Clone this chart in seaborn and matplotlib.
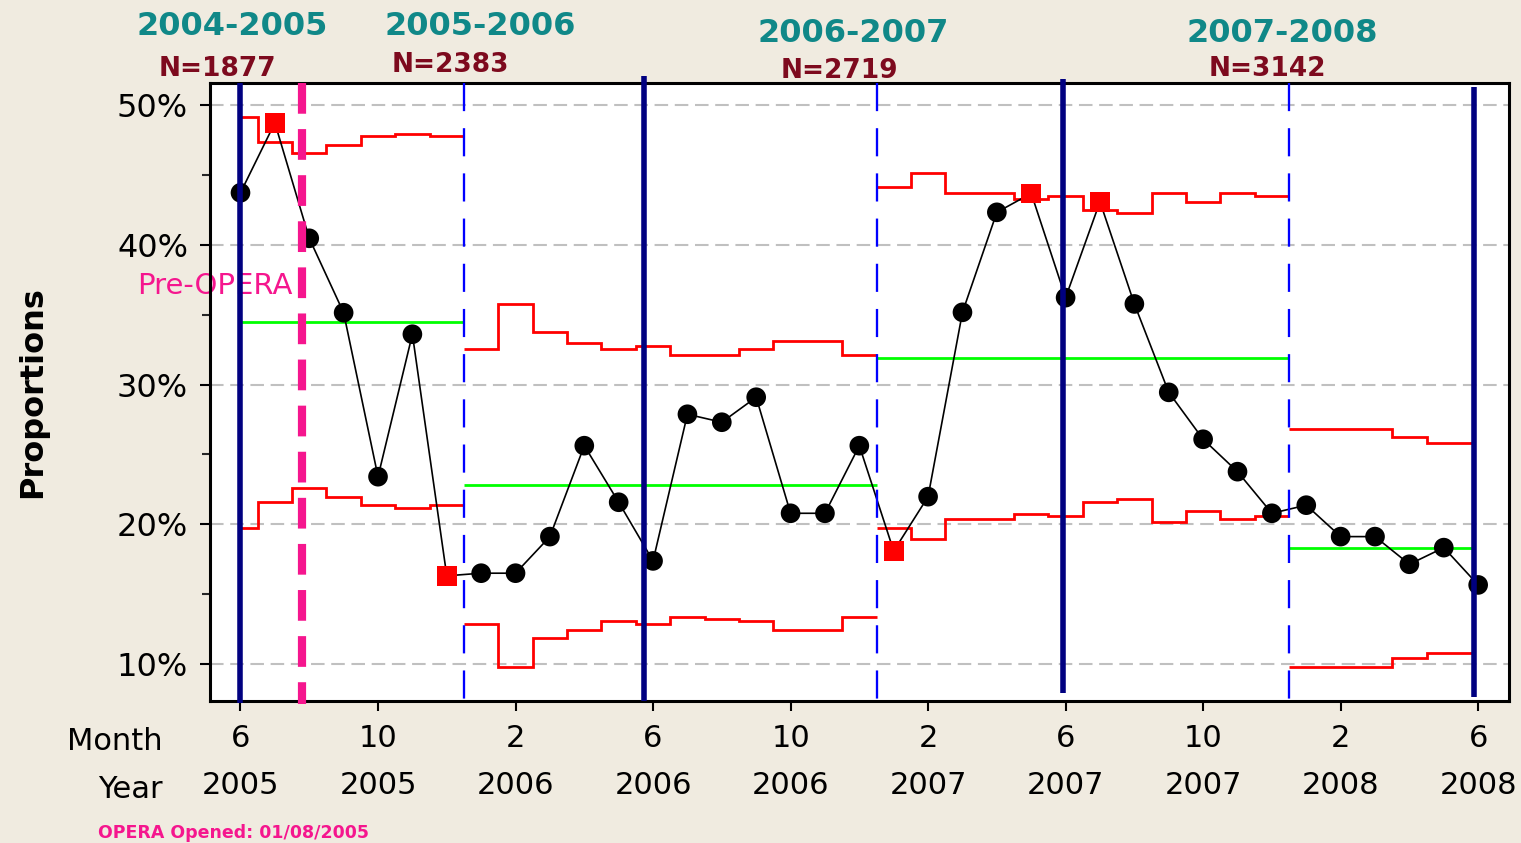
import numpy as np
import pandas as pd
import matplotlib
matplotlib.use("Agg")
import matplotlib.pyplot as plt
import seaborn as sns

# ---------------- data ----------------
months = [6, 7, 8, 9, 10, 11, 12,
          1, 2, 3, 4, 5, 6, 7, 8, 9, 10, 11, 12,
          1, 2, 3, 4, 5, 6, 7, 8, 9, 10, 11, 12,
          1, 2, 3, 4, 5, 6]
years = [2005] * 7 + [2006] * 12 + [2007] * 12 + [2008] * 6

proportion = [43.74, 48.75, 40.48, 35.15, 23.41, 33.61, 16.31,
              16.50, 16.50, 19.12, 25.63, 21.58, 17.38, 27.88, 27.31, 29.10, 20.79, 20.79, 25.63,
              18.09, 21.98, 35.18, 42.34, 43.70, 36.23, 43.10, 35.78, 29.45, 26.09, 23.77, 20.79,
              21.37, 19.12, 19.12, 17.14, 18.33, 15.66]

ucl = [49.18, 47.35, 46.56, 47.16, 47.80, 47.95, 47.80,
       32.53, 35.78, 33.77, 33.01, 32.53, 32.75, 32.10, 32.10, 32.53, 33.13, 33.13, 32.10,
       44.15, 45.13, 43.70, 43.70, 43.27, 43.51, 42.50, 42.31, 43.70, 43.10, 43.70, 43.51,
       26.83, 26.83, 26.83, 26.23, 25.80, 25.80]

lcl = [19.72, 21.58, 22.58, 21.98, 21.37, 21.15, 21.39,
       12.87, 9.77, 11.85, 12.44, 13.09, 12.87, 13.39, 13.23, 13.09, 12.44, 12.44, 13.39,
       19.72, 18.95, 20.39, 20.39, 20.74, 20.60, 21.58, 21.82, 20.20, 20.96, 20.39, 20.60,
       9.77, 9.77, 9.77, 10.41, 10.79, 10.79]

center_line = [34.51, 22.80, 31.93, 18.33]
phase_sizes = [7, 12, 12, 6]
phase_edges = [1.0, 7.5, 19.5, 31.5, 36.9]
phase_titles = ["2004-2005", "2005-2006", "2006-2007", "2007-2008"]
phase_n = ["N=1877", "N=2383", "N=2719", "N=3142"]
year_marks = [1.0, 12.74, 24.93, 36.89]
opera_open = 2.80
y_ticks = [10, 20, 30, 40, 50]

# ---------------- figure ----------------
W, H = 1521, 843
sns.set_style("white")
plt.rcParams["font.family"] = ["DejaVu Sans"]

BG = "#f0ebe0"
PINK = "#f5168e"
TEAL = "#108888"
MAROON = "#7d0a1e"

fig = plt.figure(figsize=(W / 100, H / 100), dpi=100, facecolor=BG)
ax_l, ax_r, ax_t, ax_b = 210, 1509, 83, 700.7
ax = fig.add_axes([ax_l / W, 1 - ax_b / H, (ax_r - ax_l) / W, (ax_b - ax_t) / H])
ax.set_facecolor("white")

idx = np.arange(1, len(proportion) + 1)
df = pd.DataFrame({"idx": idx, "p": proportion, "ucl": ucl, "lcl": lcl})
df["status"] = np.where((df["p"] > df["ucl"]) | (df["p"] < df["lcl"]), "out", "in")

# control limits & centre lines per phase
start = 0
for k, n in enumerate(phase_sizes):
    seg = slice(start, start + n)
    first = idx[start]
    edges = [phase_edges[k]] + [first + j + 0.5 for j in range(n - 1)] + [phase_edges[k + 1]]
    ax.stairs(np.array(ucl[seg]), edges, baseline=None, color="#ff0000", lw=2.0, zorder=3)
    ax.stairs(np.array(lcl[seg]), edges, baseline=None, color="#ff0000", lw=2.0, zorder=3)
    ax.hlines(center_line[k], phase_edges[k], phase_edges[k + 1], color="#00ff00", lw=2.0, zorder=3)
    start += n

# data line and points
sns.lineplot(data=df, x="idx", y="p", color="black", lw=1.2, ax=ax, zorder=4)
sns.scatterplot(data=df, x="idx", y="p", hue="status", style="status",
                palette={"in": "black", "out": "#ff0000"},
                markers={"in": "o", "out": "s"}, s=200, linewidth=0,
                legend=False, ax=ax, zorder=5)

# phase boundaries (blue dashed)
xt = ax.get_xaxis_transform()
for xb in phase_edges[1:-1]:
    ax.plot([xb, xb], [1.0, 0.0], transform=xt, color="#0000ff", lw=1.66,
            linestyle=(0, (12.2, 7.4)), zorder=6, clip_on=False)

# year markers (navy solid)
mark_spans = [(1.0, -0.003), (1.0113, 0.0), (1.0065, 0.0125), (0.9935, 0.006)]
for xm, (y1, y0) in zip(year_marks, mark_spans):
    ax.plot([xm, xm], [y1, y0], transform=xt, color="#000080", lw=4.0,
            solid_capstyle="butt", zorder=7, clip_on=False)

# OPERA opening (pink dashed)
ax.plot([opera_open, opera_open], [1.0, -0.006], transform=xt, color=PINK, lw=5.9,
        linestyle=(0, (3.75, 1.875)), zorder=8, clip_on=False)

# axes scales
ax.set_xlim(0.113, 37.897)
ax.set_ylim(7.37, 51.60)
ax.set_yticks(y_ticks)
ax.set_yticklabels([f"{v}%" for v in y_ticks])
ax.set_yticks([v + 5 for v in y_ticks[:-1]], minor=True)
tick_idx = idx[::4]
ax.set_xticks(tick_idx)
ax.set_xticklabels([f"{months[i - 1]}\n{years[i - 1]}" for i in tick_idx],
                   linespacing=1.8, fontsize=22)
ax.set_xlabel("")
ax.set_ylabel("")
ax.grid(axis="y", which="major", color="#c0c0c0", lw=1.5, linestyle=(0, (6.5, 3.2)))
ax.set_axisbelow(True)

for sp in ax.spines.values():
    sp.set_color("black")
    sp.set_linewidth(2.2)
    sp.set_visible(True)

ax.tick_params(axis="y", which="major", direction="out", length=7.2, width=1.5,
               pad=8.6, labelsize=23, left=True, colors="black")
ax.tick_params(axis="y", which="minor", direction="out", length=5.5, width=1.5, left=True)
ax.tick_params(axis="x", which="major", direction="out", length=7.2, width=1.5,
               pad=9.5, labelsize=22, bottom=True, colors="black")

# ---------------- annotations ----------------
def fxy(px, py):
    return px / W, 1 - py / H

title_pos = [(232, 35), (480, 35), (853, 41.7), (1282, 41.7)]
n_pos = [(217, 76), (450, 71.7), (839, 78.3), (1267, 75.7)]
for t, (px, py) in zip(phase_titles, title_pos):
    fig.text(*fxy(px, py), t, ha="center", va="baseline", fontsize=23,
             fontweight="bold", color=TEAL)
for t, (px, py) in zip(phase_n, n_pos):
    fig.text(*fxy(px, py), t, ha="center", va="baseline", fontsize=19,
             fontweight="bold", color=MAROON)

ax.text(137 / W, 1 - 294 / H, "Pre-OPERA", transform=fig.transFigure, ha="left",
        va="baseline", fontsize=21, color=PINK, zorder=2, clip_on=False)

fig.text(*fxy(32.5, 392), "Proportions", rotation=90, ha="center", va="center",
         fontsize=23, fontweight="bold", color="black")
fig.text(*fxy(163, 750), "Month", ha="right", va="baseline", fontsize=22, color="black")
fig.text(*fxy(163, 798), "Year", ha="right", va="baseline", fontsize=22, color="black")
fig.text(*fxy(98, 838), "OPERA Opened: 01/08/2005", ha="left", va="baseline",
         fontsize=12.5, fontweight="bold", color=PINK)

fig.savefig("out.png", dpi=100, facecolor=BG)
